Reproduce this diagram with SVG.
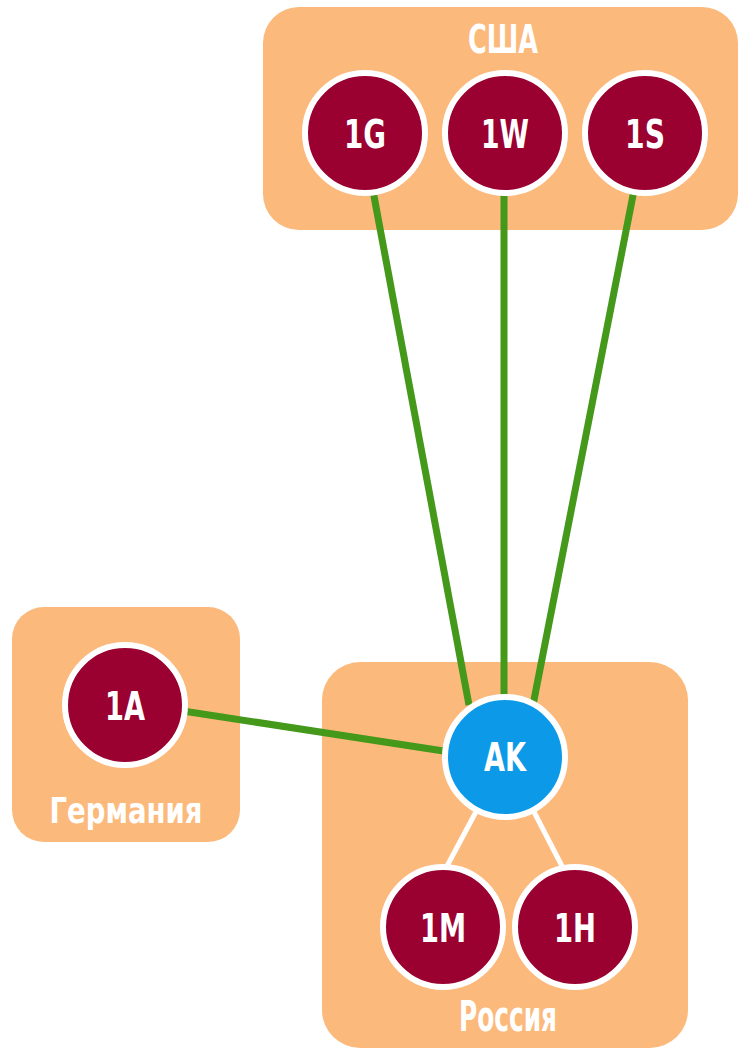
<svg xmlns="http://www.w3.org/2000/svg" width="740" height="1052" viewBox="0 0 740 1052">
<style>
.region{fill:#fcb97c;}
.node{fill:#9a0030;stroke:#ffffff;stroke-width:6;}
.hub{fill:#0c9ae8;stroke:#ffffff;stroke-width:6;}
.lbl{font-family:"DejaVu Sans Condensed","DejaVu Sans","Liberation Sans",sans-serif;font-weight:bold;fill:#ffffff;text-anchor:middle;}
.green{stroke:#44981a;stroke-width:7;fill:none;}
.white{stroke:#ffffff;stroke-width:5;fill:none;}
</style>
<rect width="740" height="1052" fill="#ffffff"/>
<g id="usa">
<rect class="region" x="263" y="7" width="475" height="223" rx="36"/>
<text class="lbl" x="503" y="53" font-size="39" textLength="70" lengthAdjust="spacingAndGlyphs">США</text>
</g>
<g id="germany">
<rect class="region" x="12" y="607" width="228" height="235" rx="32"/>
<text class="lbl" x="126" y="823" font-size="36" textLength="153" lengthAdjust="spacingAndGlyphs">Германия</text>
</g>
<g id="russia">
<rect class="region" x="322" y="662" width="366" height="386" rx="38"/>
<text class="lbl" x="508" y="1031" font-size="42" textLength="98" lengthAdjust="spacingAndGlyphs">Россия</text>
</g>
<g id="connectors">
<line class="green" x1="371" y1="180" x2="469" y2="705"/>
<line class="green" x1="504" y1="180" x2="504" y2="705"/>
<line class="green" x1="636" y1="180" x2="533" y2="705"/>
<line class="green" x1="170" y1="709" x2="450" y2="752"/>
<line class="white" x1="478" y1="808" x2="446" y2="868"/>
<line class="white" x1="532" y1="808" x2="563" y2="868"/>
</g>
<g id="n1G"><circle class="node" cx="365" cy="133" r="60"/><text class="lbl" x="365" y="148" font-size="39" textLength="42" lengthAdjust="spacingAndGlyphs">1G</text></g>
<g id="n1W"><circle class="node" cx="505" cy="133" r="60"/><text class="lbl" x="505" y="148" font-size="39" textLength="48" lengthAdjust="spacingAndGlyphs">1W</text></g>
<g id="n1S"><circle class="node" cx="645" cy="133" r="60"/><text class="lbl" x="645" y="148" font-size="39" textLength="40" lengthAdjust="spacingAndGlyphs">1S</text></g>
<g id="n1A"><circle class="node" cx="125" cy="705" r="60"/><text class="lbl" x="125" y="720" font-size="39" textLength="40" lengthAdjust="spacingAndGlyphs">1A</text></g>
<g id="nAK"><circle class="hub" cx="505" cy="757" r="60"/><text class="lbl" x="505" y="771" font-size="39" textLength="42" lengthAdjust="spacingAndGlyphs">AK</text></g>
<g id="n1M"><circle class="node" cx="443" cy="927" r="60"/><text class="lbl" x="443" y="942" font-size="39" textLength="46" lengthAdjust="spacingAndGlyphs">1M</text></g>
<g id="n1H"><circle class="node" cx="575" cy="927" r="60"/><text class="lbl" x="575" y="942" font-size="39" textLength="42" lengthAdjust="spacingAndGlyphs">1H</text></g>
</svg>
